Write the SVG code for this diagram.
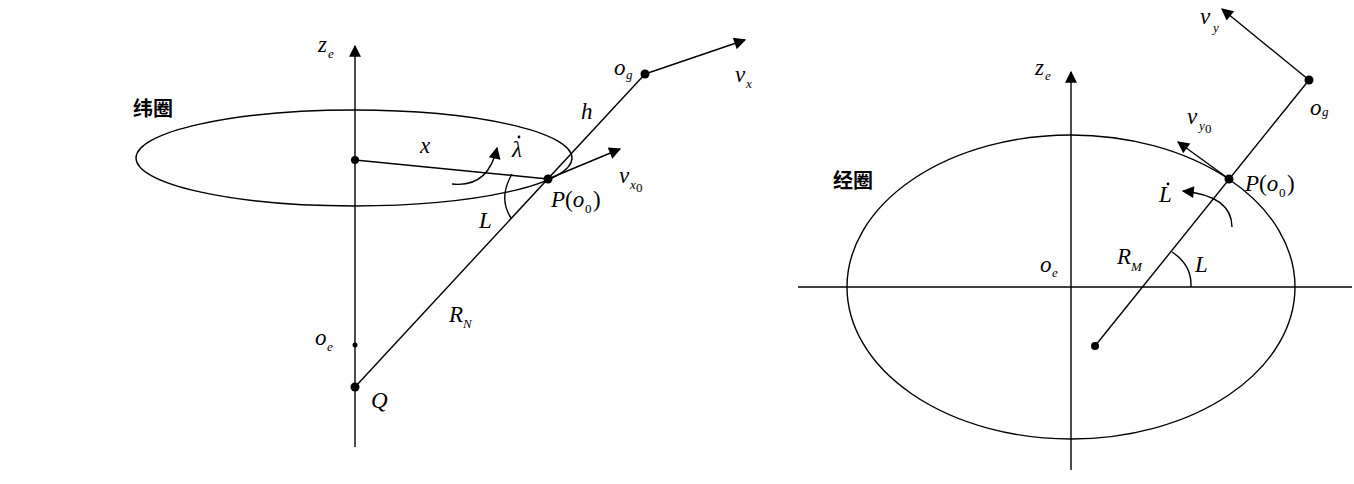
<svg xmlns="http://www.w3.org/2000/svg" width="1354" height="484" viewBox="0 0 1354 484">
<defs>
<marker id="arb" viewBox="0 0 10 10" refX="9" refY="5" markerWidth="14" markerHeight="12" markerUnits="userSpaceOnUse" orient="auto"><path d="M0,0 L10,5 L0,10 z" fill="#000"/></marker>
</defs>
<style>
.l{stroke:#000;stroke-width:1.4;fill:none}
.t{font-family:"Liberation Serif","DejaVu Serif","Times New Roman",serif;font-style:italic;font-size:23px;fill:#000}
.s{font-family:"Liberation Serif","DejaVu Serif","Times New Roman",serif;font-style:italic;font-size:13px;fill:#000}
.n{font-style:normal}
.c{font-family:"Noto Sans CJK SC",sans-serif;font-weight:bold;font-size:20px;fill:#000}
</style>
<rect width="1354" height="484" fill="#fff"/>
<g id="connectors">
<line class="l" x1="355" y1="447" x2="355" y2="46" marker-end="url(#arb)"/>
<ellipse class="l" cx="354" cy="158" rx="218" ry="48"/>
<line class="l" x1="355" y1="160" x2="548" y2="179"/>
<line class="l" x1="355" y1="387" x2="645" y2="74"/>
<line class="l" x1="645" y1="74" x2="745" y2="40" marker-end="url(#arb)"/>
<line class="l" x1="548" y1="179" x2="620" y2="149" marker-end="url(#arb)"/>
<path class="l" d="M452,184 Q488,188 497,148" marker-end="url(#arb)"/>
<path class="l" d="M512,174 Q498,198 511,218"/>
<line class="l" x1="798" y1="287" x2="1352" y2="287"/>
<line class="l" x1="1071" y1="470" x2="1071" y2="72" marker-end="url(#arb)"/>
<ellipse class="l" cx="1071" cy="287" rx="224" ry="152"/>
<line class="l" x1="1095" y1="346" x2="1309" y2="80"/>
<line class="l" x1="1309" y1="80" x2="1222" y2="9" marker-end="url(#arb)"/>
<line class="l" x1="1229" y1="179" x2="1178" y2="142" marker-end="url(#arb)"/>
<path class="l" d="M1232,227 Q1232,196 1183,191" marker-end="url(#arb)"/>
<path class="l" d="M1172,252 Q1192,265 1191,287"/>
</g>
<g id="dots" fill="#000">
<circle cx="355" cy="160" r="4"/>
<circle cx="548" cy="179" r="4.5"/>
<circle cx="645" cy="74" r="4.5"/>
<circle cx="355" cy="345" r="2.5"/>
<circle cx="355" cy="387" r="4.5"/>
<circle cx="1229" cy="179" r="4.5"/>
<circle cx="1309" cy="80" r="4.5"/>
<circle cx="1095" cy="346" r="4"/>
<circle cx="519" cy="137" r="1.4"/>
<circle cx="1168" cy="184" r="1.4"/>
</g>
<g id="labels">
<text class="c" x="133" y="116">纬圈</text>
<text class="c" x="833" y="188">经圈</text>
<text class="t" x="318" y="52">z</text><text class="s" x="328" y="58">e</text>
<text class="t" x="420" y="153">x</text>
<text class="t" x="512" y="157">λ</text>
<text class="t" x="581" y="119">h</text>
<text class="t" x="614" y="75">o</text><text class="s" x="626" y="79">g</text>
<text class="t" x="735" y="82">v</text><text class="s" x="746" y="88">x</text>
<text class="t" x="619" y="183">v</text><text class="s" x="630" y="189">x</text><text class="s n" x="636" y="192" font-size="9">0</text>
<text class="t" x="551" y="207">P<tspan class="n">(</tspan>o</text><text class="s n" x="585" y="213">0</text><text class="t n" x="593" y="207">)</text>
<text class="t" x="479" y="228">L</text>
<text class="t" x="449" y="322">R</text><text class="s" x="463" y="328">N</text>
<text class="t" x="315" y="345">o</text><text class="s" x="327" y="351">e</text>
<text class="t" x="371" y="408">Q</text>
<text class="t" x="1035" y="75">z</text><text class="s" x="1045" y="80">e</text>
<text class="t" x="1200" y="24">v</text><text class="s" x="1213" y="32">y</text>
<text class="t" x="1310" y="115">o</text><text class="s" x="1322" y="116">g</text>
<text class="t" x="1187" y="124">v</text><text class="s" x="1199" y="130">y</text><text class="s n" x="1205" y="133" font-size="9">0</text>
<text class="t" x="1245" y="191">P<tspan class="n">(</tspan>o</text><text class="s n" x="1279" y="197">0</text><text class="t n" x="1287" y="191">)</text>
<text class="t" x="1159" y="202">L</text>
<text class="t" x="1117" y="264">R</text><text class="s" x="1131" y="271">M</text>
<text class="t" x="1195" y="272">L</text>
<text class="t" x="1040" y="272">o</text><text class="s" x="1052" y="277">e</text>
</g>
</svg>
